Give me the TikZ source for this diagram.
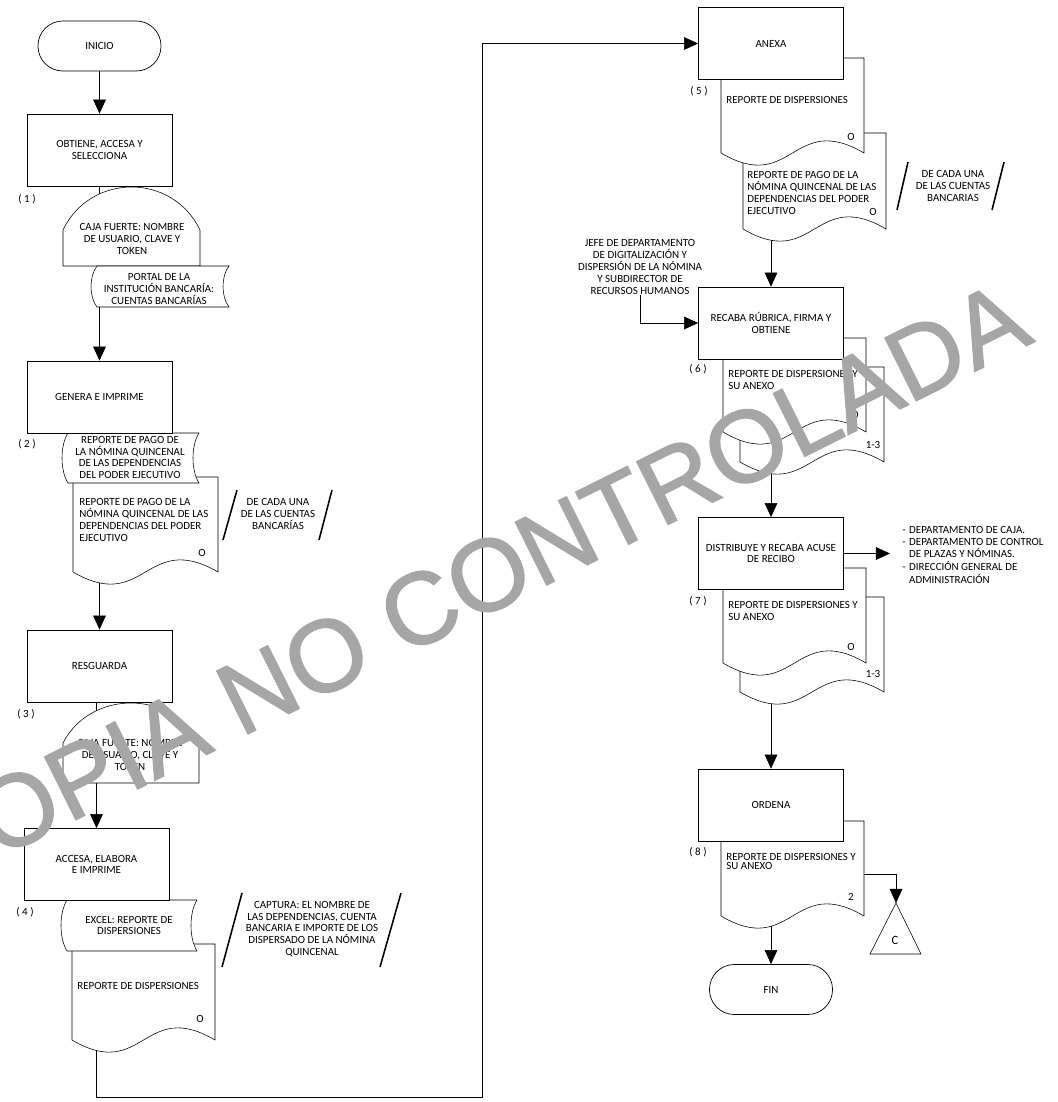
\documentclass[tikz,border=0pt]{standalone}
\usepackage{fontspec}
\setmainfont{Carlito}
\newfontfamily\marcafont[FakeBold=1.5]{Liberation Sans}
\usetikzlibrary{arrows.meta}

\pgfdeclarelayer{fondo}
\pgfdeclarelayer{hojas}
\pgfdeclarelayer{marca}
\pgfsetlayers{fondo,hojas,main,marca}

\definecolor{grismarca}{RGB}{166,166,166}

\tikzset{
  proceso/.style={draw, fill=white, minimum width=3.625cm, minimum height=1.8cm, align=center, inner sep=1pt},
  terminal/.style={draw, fill=white, rounded corners=0.62cm, minimum width=3.075cm, minimum height=1.25cm},
  texto/.style={align=center, inner sep=0pt},
  textoizq/.style={align=left, anchor=west, inner sep=0pt},
  paso/.style={inner sep=0pt},
  flecha/.style={-{Triangle[length=10pt,width=9pt]}},
  diagonal/.style={line width=1.1pt},
  hoja/.style={draw, fill=white},
}

% documento: izquierda, arriba, derecha, abajo
\newcommand{\documento}[4]{%
  \path[hoja] (#1,#2) -- (#3,#2) -- (#3,#4)
    .. controls ({(#1+#3)/2},{#4-42}) and ({(#1+#3)/2},{#4+42}) .. (#1,#4) -- cycle;}
% datos almacenados: izquierda, arriba, derecha, abajo
\newcommand{\almacen}[4]{%
  \path[hoja] (#1,#2) -- (#3,#2)
    .. controls ({#3-8},{#2+(#4-#2)/4}) and ({#3-8},{#4-(#4-#2)/4}) .. (#3,#4) -- (#1,#4)
    .. controls ({#1-8},{#4-(#4-#2)/4}) and ({#1-8},{#2+(#4-#2)/4}) .. (#1,#2) -- cycle;}
% caja fuerte: izquierda, cima, derecha, hombro, base
\newcommand{\cajafuerte}[5]{%
  \path[hoja] (#1,#5) -- (#1,#4)
    .. controls ({#1+0.2*(#3-#1)},{#4-1.333*(#4-#2)}) and ({#3-0.2*(#3-#1)},{#4-1.333*(#4-#2)}) .. (#3,#4)
    -- (#3,#5) -- cycle;}

\begin{document}
\begin{tikzpicture}[x=0.025cm, y=-0.025cm, line width=0.5pt,
    every node/.style={font=\fontsize{7.8}{8.4}\selectfont}]

  \useasboundingbox (0,0) rectangle (1057,1102);

  %--------------------------
  % Columna izquierda
  %--------------------------
  \node[terminal] (inicio) at (99.5,46) {INICIO};
  \node[proceso] (obtiene) at (99.5,150) {OBTIENE, ACCESA Y\\SELECCIONA};
  \node[paso] (p1) at (27,199) {( 1 )};
  \node[texto] (caja1) at (132,239) {CAJA FUERTE: NOMBRE\\DE USUARIO, CLAVE Y\\TOKEN};
  \node[texto] (portal) at (159,289) {PORTAL DE LA\\INSTITUCIÓN BANCARÍA:\\CUENTAS BANCARÍAS};

  \node[proceso] (genera) at (99.5,397) {GENERA E IMPRIME};
  \node[paso] (p2) at (27,444) {( 2 )};
  \node[texto] (pago1) at (130,457.5) {REPORTE DE PAGO DE\\LA NÓMINA QUINCENAL\\DE LAS DEPENDENCIAS\\DEL PODER EJECUTIVO};
  \node[textoizq] (pago2) at (79,520) {REPORTE DE PAGO DE LA\\NÓMINA QUINCENAL DE LAS\\DEPENDENCIAS DEL PODER\\EJECUTIVO};
  \node (o2) at (202,553) {O};
  \node[texto] (cuentas1) at (278,514) {DE CADA UNA\\DE LAS CUENTAS\\BANCARÍAS};

  \node[proceso] (resguarda) at (99.5,666) {RESGUARDA};
  \node[paso] (p3) at (26,714) {( 3 )};
  \node[texto] (caja2) at (130,755) {CAJA FUERTE: NOMBRE\\DE USUARIO, CLAVE Y\\TOKEN};

  \node[proceso] (accesa) at (96.5,864.5) {ACCESA, ELABORA\\E IMPRIME};
  \node[paso] (p4) at (25,912) {( 4 )};
  \node[texto] (excel) at (129,925.5) {EXCEL: REPORTE DE\\DISPERSIONES};
  \node[textoizq] (disp4) at (77,986) {REPORTE DE DISPERSIONES};
  \node (o4) at (200,1019) {O};
  \node[texto] (captura) at (312,929) {CAPTURA: EL NOMBRE DE\\LAS DEPENDENCIAS, CUENTA\\BANCARIA E IMPORTE DE LOS\\DISPERSADO DE LA NÓMINA\\QUINCENAL};
  \coordinate (esquina) at (482,1097);

  %--------------------------
  % Columna derecha
  %--------------------------
  \node[proceso] (anexa) at (771,43.5) {ANEXA};
  \node[paso] (p5) at (699,91) {( 5 )};
  \node[textoizq] (disp5) at (726,100) {REPORTE DE DISPERSIONES};
  \node (o5a) at (851,137) {O};
  \node[textoizq] (pago5) at (747,193) {REPORTE DE PAGO DE LA\\NÓMINA QUINCENAL DE LAS\\DEPENDENCIAS DEL PODER\\EJECUTIVO};
  \node (o5b) at (873,212) {O};
  \node[texto] (cuentas2) at (953,186) {DE CADA UNA\\DE LAS CUENTAS\\BANCARIAS};

  \node[texto] (jefe) at (640,267) {JEFE DE DEPARTAMENTO\\DE DIGITALIZACIÓN Y\\DISPERSIÓN DE LA NÓMINA\\Y SUBDIRECTOR DE\\RECURSOS HUMANOS};
  \node[proceso] (recaba) at (771,323) {RECABA RÚBRICA, FIRMA Y\\OBTIENE};
  \node[paso] (p6) at (698,369) {( 6 )};
  \node[textoizq] (disp6) at (728,380) {REPORTE DE DISPERSIONES Y\\SU ANEXO};
  \node (o6) at (855,415) {O};
  \node (c6) at (873,445) {1-3};

  \node[proceso] (distribuye) at (771,553.5) {DISTRIBUYE Y RECABA ACUSE\\DE RECIBO};
  \node[anchor=west, inner xsep=0.3cm, inner ysep=0pt] (lista) at (890,556)
    {\begin{tabular}{@{}l@{\hspace{2.5pt}}l@{}}
      -& DEPARTAMENTO DE CAJA.\\
      -& DEPARTAMENTO DE CONTROL\\
       & DE PLAZAS Y NÓMINAS.\\
      -& DIRECCIÓN GENERAL DE\\
       & ADMINISTRACIÓN
     \end{tabular}};
  \node[paso] (p7) at (698,601) {( 7 )};
  \node[textoizq] (disp7) at (728,611) {REPORTE DE DISPERSIONES Y\\SU ANEXO};
  \node (o7) at (851,647) {O};
  \node (c7) at (873,674) {1-3};

  \node[proceso] (ordena) at (771,805) {ORDENA};
  \node[paso] (p8) at (698,852) {( 8 )};
  \node[textoizq, font=\fontsize{7.8}{6.6}\selectfont] (disp8) at (726,861.5) {REPORTE DE DISPERSIONES Y\\SU ANEXO};
  \node (c8) at (851,897) {2};
  \coordinate (lado8) at (864,874);
  \coordinate (vertice) at (896,903);
  \node[font=\fontsize{9}{9}\selectfont] (conC) at (895,940) {C};
  \node[terminal] (fin) at (771,989.5) {FIN};

  % Diagonales de las notas
  \draw[diagonal] (223,540) -- (237,490);
  \draw[diagonal] (319,540) -- (332,490);
  \draw[diagonal] (222,967) -- (242,893);
  \draw[diagonal] (380,967) -- (401,893);
  \draw[diagonal] (897,210) -- (908,162);
  \draw[diagonal] (992,210) -- (1004,162);

  %--------------------------
  % Hojas y simbolos
  %--------------------------
  \begin{pgfonlayer}{hojas}
    \cajafuerte{63}{187}{200}{230}{266}
    \almacen{97}{266}{229}{307}

    \documento{73}{477}{218}{572}
    \almacen{68}{433}{199}{483}

    \cajafuerte{63}{703}{199}{743}{783}

    \documento{72}{944}{215}{1040}
    \almacen{67}{900}{197}{951}

    \documento{743}{133}{886}{229}
    \documento{721}{58}{864}{153}

    \documento{740}{367}{884}{462}
    \documento{723}{338}{866}{432}

    \documento{740}{597}{884}{692}
    \documento{723}{568}{866}{663}

    \documento{721}{821}{864}{916}

    % conector fuera de pagina
    \path[hoja] (vertice) -- (921,954) -- (870,954) -- cycle;
  \end{pgfonlayer}

  %--------------------------
  % Conectores
  %--------------------------
  \begin{pgfonlayer}{fondo}
    \draw[flecha] (inicio) -- (obtiene);
    \draw[flecha] (obtiene) -- (genera);
    \draw[flecha] (genera) -- (resguarda);
    \draw[flecha] (resguarda.south -| accesa) -- (accesa);
    \draw[flecha] (accesa) |- (esquina) |- (anexa);
    \draw[flecha] (anexa) -- (recaba);
    \draw[flecha] (jefe) |- (recaba);
    \draw[flecha] (recaba) -- (distribuye);
    \draw[flecha] (distribuye) -- (distribuye -| lista.west);
    \draw[flecha] (distribuye) -- (ordena);
    \draw[flecha] (ordena) -- (fin);
    \draw[flecha] (lado8) -| (vertice);
  \end{pgfonlayer}

  % Marca de agua
  \begin{pgfonlayer}{marca}
    \node[rotate=26.5, text=grismarca, inner sep=0pt, font=\marcafont\fontsize{72.4}{72.4}\selectfont]
      (marca) at (468,585) {COPIA NO CONTROLADA};
  \end{pgfonlayer}

\end{tikzpicture}
\end{document}
